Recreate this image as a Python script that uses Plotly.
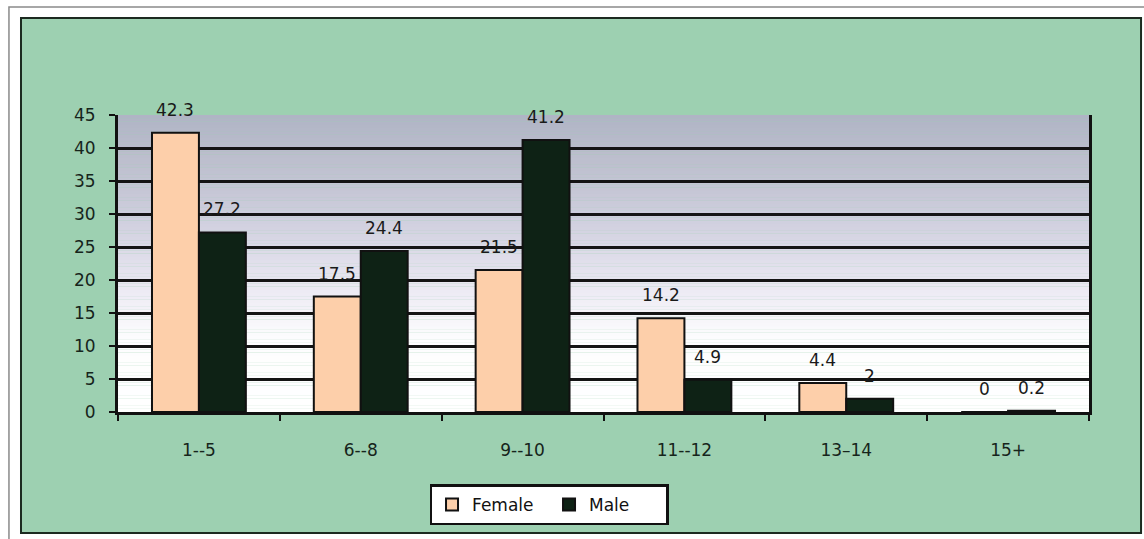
import plotly.graph_objects as go

# Age groups and percentage shares by sex
categories = ["1--5", "6--8", "9--10", "11--12", "13–14", "15+"]
female = [42.3, 17.5, 21.5, 14.2, 4.4, 0]
male = [27.2, 24.4, 41.2, 4.9, 2, 0.2]
y_ticks = [0, 5, 10, 15, 20, 25, 30, 35, 40, 45]

FEMALE_COLOR = "#fdcfaa"
MALE_COLOR = "#0e2215"
GREEN = "#9dd0b1"
TEXT = "#16241b"
FONT = "DejaVu Sans"

fig = go.Figure()
fig.add_trace(go.Bar(name="Female", x=categories, y=female,
                     marker=dict(color=FEMALE_COLOR, line=dict(color="#111", width=2))))
fig.add_trace(go.Bar(name="Male", x=categories, y=male,
                     marker=dict(color=MALE_COLOR, line=dict(color="#111", width=2))))

# Value labels above each bar
for vals, shift in ((female, -23.5), (male, 23.5)):
    for cat, v in zip(categories, vals):
        fig.add_annotation(x=cat, y=v, text=f"{v:g}", showarrow=False,
                           xshift=shift, yanchor="bottom", yshift=11,
                           font=dict(family=FONT, size=17, color="#1a1a1a"))

shapes = []
# Green chart panel with dark frame
shapes.append(dict(type="rect", xref="paper", yref="paper",
                   x0=-0.0999, x1=1.0536, y0=-0.4074, y1=1.3266,
                   fillcolor=GREEN, line=dict(color="#1c2a20", width=2), layer="below"))
# Outer page frame
shapes.append(dict(type="rect", xref="paper", yref="paper",
                   x0=-0.1123, x1=1.08, y0=-0.45, y1=1.3636,
                   fillcolor="rgba(0,0,0,0)", line=dict(color="#8a8a8a", width=1.5), layer="below"))

# Plot-area background fading from grey-blue at the top to white at the bottom
stops = [(0, (255, 255, 255)), (11, (253, 253, 254)), (17, (240, 238, 246)),
         (23, (224, 222, 235)), (30, (205, 205, 220)), (38, (189, 191, 206)),
         (45, (176, 180, 197))]

def shade(v):
    for (a, ca), (b, cb) in zip(stops, stops[1:]):
        if a <= v <= b:
            t = (v - a) / (b - a)
            return "rgb(%d,%d,%d)" % tuple(round(ca[i] + (cb[i] - ca[i]) * t) for i in range(3))
    return "rgb(255,255,255)"

step = 0.5
n = int(45 / step)
for i in range(n):
    lo, hi = i * step, (i + 1) * step
    shapes.append(dict(type="rect", xref="x domain", yref="y",
                       x0=0, x1=1, y0=lo, y1=hi + 0.02,
                       fillcolor=shade((lo + hi) / 2), line=dict(width=0), layer="below"))

fig.update_layout(
    width=1144, height=539,
    margin=dict(l=118, r=55, t=115, b=127),
    paper_bgcolor="white",
    plot_bgcolor="rgba(0,0,0,0)",
    barmode="group", bargap=0.42, bargroupgap=0,
    shapes=shapes,
    font=dict(family=FONT, size=17, color=TEXT),
    showlegend=True,
    legend=dict(orientation="h", x=0.4439, y=-0.313, xanchor="center", yanchor="middle",
                bgcolor="white", bordercolor="#111", borderwidth=2.5,
                font=dict(family=FONT, size=17, color="#111"),
                entrywidth=72, itemwidth=30, traceorder="normal"),
    xaxis=dict(showline=True, linecolor="#111", linewidth=3,
               ticks="outside", tickson="boundaries", ticklen=6, tickwidth=2, tickcolor="#111",
               ticklabelstandoff=21, showgrid=False,
               tickfont=dict(family=FONT, size=17, color=TEXT)),
    yaxis=dict(range=[0, 45], tickvals=y_ticks, showline=True, mirror=True,
               linecolor="#111", linewidth=3,
               ticks="outside", ticklen=6, tickwidth=2, tickcolor="#111",
               showgrid=True, gridcolor="#141414", gridwidth=3, zeroline=False,
               ticklabelstandoff=10,
               tickfont=dict(family=FONT, size=17, color=TEXT)),
)

fig.write_html("out.html")
